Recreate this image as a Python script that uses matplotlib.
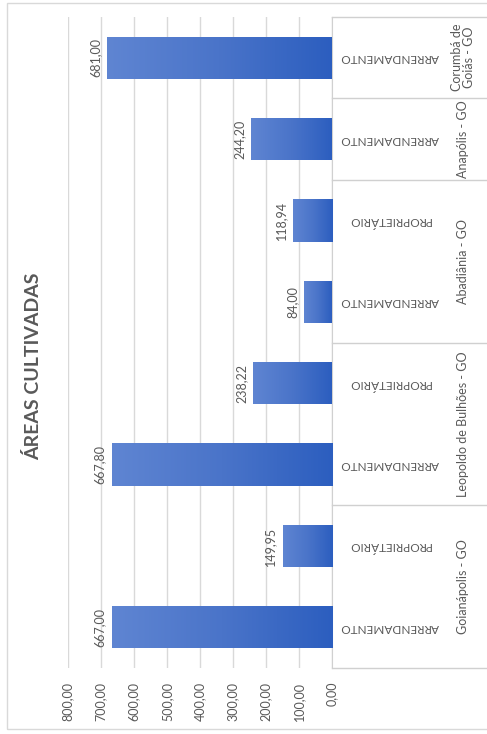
import matplotlib.pyplot as plt
import matplotlib.transforms as mtransforms
from matplotlib.colors import LinearSegmentedColormap
from matplotlib.patches import Rectangle
import numpy as np

plt.rcParams['font.family'] = ['Lato', 'DejaVu Sans']

# Data (bottom to top as it appears in the picture)
tipos = ['ARRENDAMENTO', 'PROPRIETÁRIO', 'ARRENDAMENTO', 'PROPRIETÁRIO',
         'ARRENDAMENTO', 'PROPRIETÁRIO', 'ARRENDAMENTO', 'ARRENDAMENTO']
areas = [667.00, 149.95, 667.80, 238.22, 84.00, 118.94, 244.20, 681.00]
municipios = ['Goianápolis - GO', 'Leopoldo de Bulhões - GO', 'Abadiânia - GO',
              'Anapólis - GO', 'Corumbá de\nGoiás - GO']
n_por_municipio = [2, 2, 2, 1, 1]
ticks = [0, 100, 200, 300, 400, 500, 600, 700, 800]

W, H = 487, 734
gray = '#595959'
line_gray = '#d9d9d9'

fig = plt.figure(figsize=(W / 100, H / 100), dpi=100)
ax = fig.add_axes([68 / W, (H - 668) / H, (332 - 68) / W, (668 - 17) / H])

y = np.arange(len(areas))
bars = ax.barh(y, areas, height=0.52, color='#4472c4', zorder=2)

# gradient fill on each bar (lighter at the tip, darker at the base)
cmap = LinearSegmentedColormap.from_list('grad', ['#2c5ebf', '#4a74c9', '#5f85d2'])
grad = np.linspace(0, 1, 256).reshape(1, -1)
for b in bars:
    x0, y0, w, h = b.get_x(), b.get_y(), b.get_width(), b.get_height()
    im = ax.imshow(grad, extent=(x0, x0 + w, y0, y0 + h), aspect='auto',
                   cmap=cmap, zorder=3, interpolation='bilinear')
    im.set_clip_path(b)

ax.set_xlim(800, 0)
ax.set_ylim(-0.5, len(areas) - 0.5)
ax.set_xticks(ticks)
ax.set_xticklabels([f'{t:.2f}'.replace('.', ',') for t in ticks],
                   rotation=90, color=gray, fontsize=9)
ax.tick_params(axis='x', length=0, pad=10)
ax.set_yticks([])
ax.grid(axis='x', color=line_gray, linewidth=1, zorder=0)
for s in ['top', 'bottom', 'left']:
    ax.spines[s].set_visible(False)
ax.spines['right'].set_color('#d0d0d0')

# value labels
for yi, v in zip(y, areas):
    ax.annotate(f'{v:.2f}'.replace('.', ','), (v, yi), xytext=(-6, 0),
                textcoords='offset pixels', rotation=90, ha='right',
                va='center', color=gray, fontsize=9)

# category axis (inner and outer labels with separator lines)
tr = mtransforms.blended_transform_factory(fig.transFigure, ax.transData)
for yi, t in zip(y, tipos):
    ax.text(390 / W, yi, t, transform=tr, rotation=180, ha='center',
            va='center', color=gray, fontsize=8.5)

start = -0.5
ax.plot([332 / W, 1.0], [start, start], transform=tr, color='#d0d0d0',
        lw=1, clip_on=False)
for m, n in zip(municipios, n_por_municipio):
    end = start + n
    ax.text(463 / W, (start + end) / 2, m, transform=tr, rotation=90,
            ha='center', va='center', color=gray, fontsize=9,
            linespacing=1.0, multialignment='center')
    ax.plot([332 / W, 1.0], [end, end], transform=tr, color='#d0d0d0',
            lw=1, clip_on=False)
    start = end

# title
fig.text(33 / W, 1 - 366 / H, 'ÁREAS CULTIVADAS', rotation=90, ha='center',
         va='center', color=gray, fontsize=14, fontweight='bold')

# outer chart border
fig.patches.append(Rectangle((7 / W, (H - 729) / H), 1.0, (729 - 3) / H,
                             transform=fig.transFigure, fill=False,
                             edgecolor='#d9d9d9', lw=1))

fig.savefig('out.png', dpi=100)
